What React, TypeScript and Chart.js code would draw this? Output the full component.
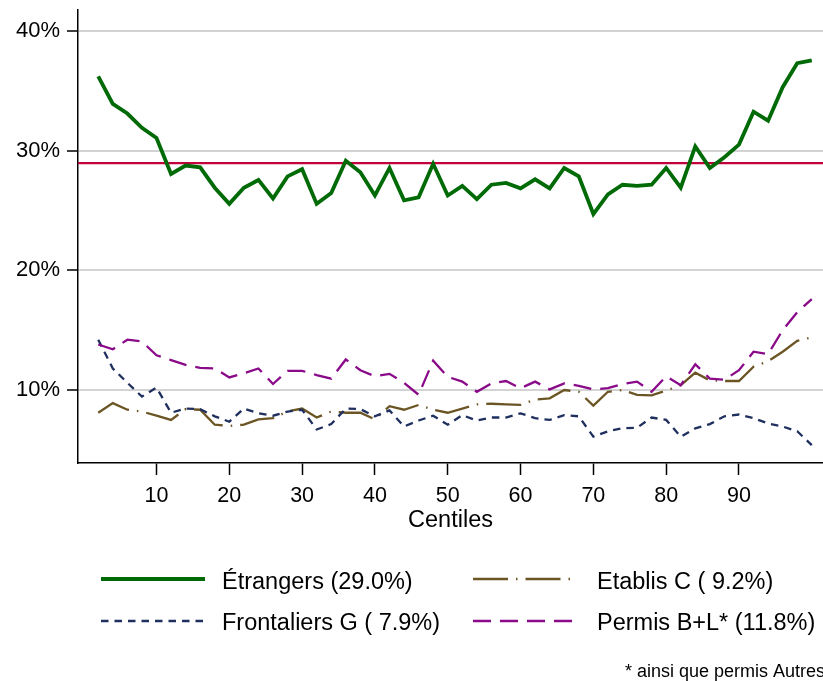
import React, { useEffect, useRef } from 'react';
import { Chart, registerables } from 'chart.js';

Chart.register(...registerables);

// ---- data ----
const centiles = [2, 4, 6, 8, 10, 12, 14, 16, 18, 20, 22, 24, 26, 28, 30, 32, 34, 36, 38, 40, 42, 44, 46, 48, 50,
  52, 54, 56, 58, 60, 62, 64, 66, 68, 70, 72, 74, 76, 78, 80, 82, 84, 86, 88, 90, 92, 94, 96, 98, 100];

const etrangers = [36.2, 33.9, 33.1, 31.9, 31.05, 28.05, 28.75, 28.6, 26.9, 25.55, 26.9, 27.55, 26.0, 27.85, 28.45,
  25.55, 26.45, 29.15, 28.2, 26.25, 28.55, 25.85, 26.1, 28.9, 26.25, 27.05, 25.95, 27.15, 27.3, 26.85, 27.6, 26.85,
  28.55, 27.85, 24.7, 26.35, 27.15, 27.05, 27.15, 28.55, 26.9, 30.35, 28.55, 29.45, 30.5, 33.25, 32.5, 35.3, 37.3, 37.55];

const etablisC = [8.1, 8.9, 8.35, 8.2, 7.85, 7.5, 8.4, 8.35, 7.1, 7.0, 7.1, 7.55, 7.65, 8.2, 8.45, 7.7, 8.2, 8.1, 8.1,
  7.55, 8.65, 8.35, 8.75, 8.35, 8.1, 8.45, 8.8, 8.85, 8.8, 8.75, 9.2, 9.3, 10.0, 9.85, 8.7, 9.85, 10.0, 9.6, 9.55, 9.95,
  10.4, 11.45, 10.8, 10.75, 10.75, 11.95, 12.4, 13.2, 14.1, 14.4];

const frontaliersG = [14.2, 11.8, 10.6, 9.45, 10.2, 8.1, 8.45, 8.4, 7.8, 7.35, 8.45, 8.05, 7.85, 8.2, 8.35, 6.7, 7.15,
  8.45, 8.4, 7.8, 8.3, 6.95, 7.45, 7.85, 7.1, 7.9, 7.45, 7.7, 7.7, 8.05, 7.65, 7.5, 7.9, 7.8, 6.1, 6.55, 6.8, 6.85, 7.7,
  7.5, 6.1, 6.8, 7.15, 7.8, 7.95, 7.65, 7.2, 6.95, 6.55, 5.4];

const permisBL = [13.8, 13.4, 14.2, 14.05, 12.9, 12.5, 12.1, 11.85, 11.8, 11.05, 11.4, 11.8, 10.5, 11.6, 11.6, 11.25,
  10.95, 12.55, 11.65, 11.15, 11.35, 10.6, 9.6, 12.45, 11.1, 10.7, 9.85, 10.55, 10.75, 10.15, 10.7, 10.05, 10.55, 10.35,
  10.05, 10.15, 10.5, 10.7, 9.85, 11.15, 10.4, 12.15, 10.95, 10.85, 11.65, 13.2, 13.0, 15.0, 16.5, 17.6];

const meanEtrangers = 28.95;

const xTicks = [10, 20, 30, 40, 50, 60, 70, 80, 90];
const yTicks = [10, 20, 30, 40];
const xTitle = 'Centiles';
const legendLabels = ['Étrangers (29.0%)', 'Etablis C ( 9.2%)', 'Frontaliers G ( 7.9%)', 'Permis B+L* (11.8%)'];
const noteText = '* ainsi que permis Autres';

// ---- axis bounds ----
const X_MIN = -0.78;
const X_MAX = 101.54;
const Y_MIN = 3.9;
const Y_MAX = 41.75;

const FONT = "'Liberation Sans', Arial, Helvetica, sans-serif";

const C_GREEN = '#006a06';
const C_RED = '#c2003c';
const C_BROWN = '#6b5524';
const C_NAVY = '#1f2f5e';
const C_PURPLE = '#8a0a8a';

const DASH_NAVY = [7.5, 6];
const DASH_PURPLE = [18, 9];
const DASH_BROWN = [35, 8, 1.5, 8];

const toPoints = (vals: number[]) => centiles.map((c, i) => ({ x: c, y: vals[i] }));

const legendPlugin = {
  id: 'customLegend',
  beforeDraw(chart: any) {
    const ctx = chart.ctx;
    ctx.save();
    ctx.fillStyle = '#ffffff';
    ctx.fillRect(0, 0, chart.width, chart.height);
    ctx.restore();
  },
  afterDraw(chart: any) {
    const ctx = chart.ctx as CanvasRenderingContext2D;
    ctx.save();
    const items = [
      { label: legendLabels[0], color: C_GREEN, dash: [] as number[], width: 3.8, x0: 101, x1: 205, tx: 222, ly: 579, ty: 589 },
      { label: legendLabels[1], color: C_BROWN, dash: DASH_BROWN, width: 2.4, x0: 473, x1: 572, tx: 597, ly: 579, ty: 589 },
      { label: legendLabels[2], color: C_NAVY, dash: DASH_NAVY, width: 2.4, x0: 101, x1: 205, tx: 222, ly: 621, ty: 630 },
      { label: legendLabels[3], color: C_PURPLE, dash: DASH_PURPLE, width: 2.4, x0: 473, x1: 572, tx: 597, ly: 621, ty: 630 },
    ];
    for (const it of items) {
      ctx.beginPath();
      ctx.setLineDash(it.dash);
      ctx.lineCap = 'butt';
      ctx.strokeStyle = it.color;
      ctx.lineWidth = it.width;
      ctx.moveTo(it.x0, it.ly);
      ctx.lineTo(it.x1, it.ly);
      ctx.stroke();
      ctx.setLineDash([]);
      ctx.fillStyle = '#000';
      ctx.font = `23.5px ${FONT}`;
      ctx.textAlign = 'left';
      ctx.textBaseline = 'alphabetic';
      ctx.fillText(it.label, it.tx, it.ty);
    }
    ctx.font = `18px ${FONT}`;
    ctx.fillStyle = '#000';
    ctx.textAlign = 'left';
    ctx.fillText(noteText, 625, 677);
    ctx.restore();
  },
};

export default function App() {
  const ref = useRef<HTMLCanvasElement>(null);

  useEffect(() => {
    if (!ref.current) return;
    const chart = new Chart(ref.current, {
      type: 'line',
      data: {
        datasets: [
          {
            label: legendLabels[3],
            data: toPoints(permisBL),
            borderColor: C_PURPLE,
            borderWidth: 2.3,
            borderDash: DASH_PURPLE,
            pointRadius: 0,
            fill: false,
            order: 1,
          },
          {
            label: legendLabels[2],
            data: toPoints(frontaliersG),
            borderColor: C_NAVY,
            borderWidth: 2.3,
            borderDash: DASH_NAVY,
            pointRadius: 0,
            fill: false,
            order: 2,
          },
          {
            label: legendLabels[1],
            data: toPoints(etablisC),
            borderColor: C_BROWN,
            borderWidth: 2.3,
            borderDash: DASH_BROWN,
            pointRadius: 0,
            fill: false,
            order: 3,
          },
          {
            label: legendLabels[0],
            data: toPoints(etrangers),
            borderColor: C_GREEN,
            borderWidth: 3.8,
            pointRadius: 0,
            fill: false,
            order: 4,
          },
          {
            label: 'moyenne',
            data: [{ x: X_MIN, y: meanEtrangers }, { x: X_MAX, y: meanEtrangers }],
            borderColor: C_RED,
            borderWidth: 2.2,
            pointRadius: 0,
            fill: false,
            order: 10,
          },
        ],
      },
      options: {
        responsive: false,
        devicePixelRatio: 1,
        animation: false,
        layout: { padding: { top: 10, left: 0, right: 0, bottom: 146 } },
        plugins: {
          legend: { display: false },
          tooltip: { enabled: false },
        },
        scales: {
          x: {
            type: 'linear',
            min: X_MIN,
            max: X_MAX,
            afterBuildTicks: (s: any) => {
              s.ticks = xTicks.map((v) => ({ value: v }));
            },
            afterFit: (s: any) => {
              s.height = 72;
              s.paddingLeft = 0;
              s.paddingRight = 0;
            },
            grid: {
              drawOnChartArea: false,
              drawTicks: true,
              tickLength: 12,
              tickColor: '#000',
              tickWidth: 1.5,
            },
            border: { display: true, color: '#000', width: 1.5 },
            ticks: {
              color: '#000',
              font: { family: FONT, size: 21.5 },
              padding: 8,
              maxRotation: 0,
              autoSkip: false,
            },
            title: {
              display: true,
              text: xTitle,
              color: '#000',
              font: { family: FONT, size: 23.5 },
              padding: { top: 0, bottom: 0 },
            },
          },
          y: {
            type: 'linear',
            min: Y_MIN,
            max: Y_MAX,
            afterBuildTicks: (s: any) => {
              s.ticks = yTicks.map((v) => ({ value: v }));
            },
            afterFit: (s: any) => {
              s.width = 78;
              s.paddingTop = 0;
              s.paddingBottom = 0;
            },
            grid: {
              color: '#d3d3d3',
              lineWidth: 2,
              drawTicks: true,
              tickLength: 11,
              tickColor: '#000',
              tickWidth: 1.5,
            },
            border: { display: true, color: '#000', width: 1.5 },
            ticks: {
              color: '#000',
              font: { family: FONT, size: 22 },
              padding: 7,
              callback: (v: any) => `${v}%`,
            },
          },
        },
      },
      plugins: [legendPlugin],
    });
    return () => chart.destroy();
  }, []);

  return (
    <div style={{ position: 'absolute', left: 0, top: 0, width: 823, height: 681, background: '#fff' }}>
      <canvas ref={ref} width={823} height={681} style={{ display: 'block', width: 823, height: 681 }} />
    </div>
  );
}
